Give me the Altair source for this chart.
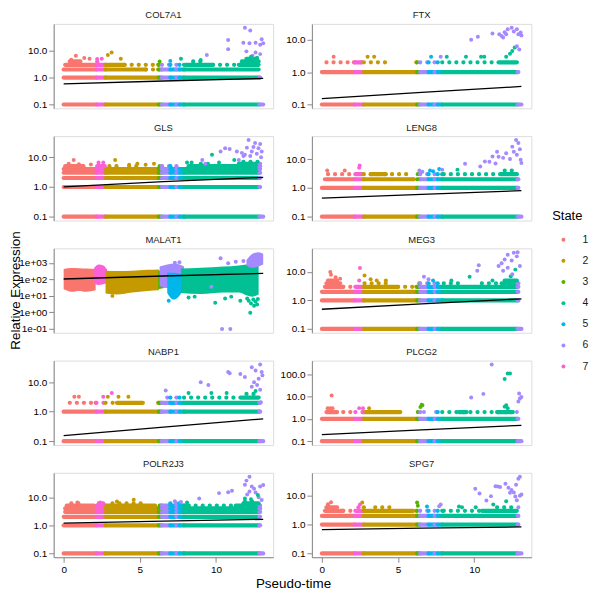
import math
import altair as alt
import pandas as pd

GENES = ["COL7A1", "FTX", "GLS", "LENG8", "MALAT1", "MEG3", "NABP1", "PLCG2", "POLR2J3", "SPG7"]
STATES = ["1", "2", "3", "4", "5", "6", "7"]
STATE_COLORS = ["#F8766D", "#C49A00", "#53B400", "#00C094", "#00B6EB", "#A58AFF", "#FB61D7"]
# pseudotime spans occupied by each state (state, start, end)
STATE_SPANS = [(1, 0.0, 2.15), (7, 2.15, 2.75), (2, 2.75, 6.25), (3, 6.25, 6.45), (6, 6.45, 7.0),
               (5, 7.0, 7.4), (6, 7.4, 7.6), (5, 7.6, 7.9), (4, 7.9, 12.85), (6, 12.85, 13.1)]
PSEUDOTIME_RANGE = [0.0, 13.1]

# runs of cells sharing an expression level: (level, t_start, t_end, "D"=dense / "S"=sparse)
COL7A1_RUNS = [(0.1, 0, 13.1, "D"), (1, 0, 12.9, "D"), (2, 0, 5.4, "D"), (2, 5.4, 6.2, "S"), (2, 6.2, 12.8, "D"),
               (3, 0.1, 4.0, "D"), (3, 4.0, 6.2, "S"), (3, 6.2, 8.0, "S"), (3, 8.0, 9.8, "D"), (3, 9.8, 11.5, "S"),
               (3, 11.5, 12.8, "D"), (4, 0.4, 1.1, "D"), (4, 2.2, 2.6, "S"), (4, 8.5, 9.2, "S"), (4, 11.7, 12.8, "D"),
               (5, 12.0, 12.7, "D")]
FTX_RUNS = [(0.1, 0, 13.1, "D"), (1, 0, 12.9, "D"), (2, 0.3, 1.9, "S"), (2, 2.1, 2.6, "D"), (2, 2.6, 4.6, "S"),
            (2, 6.2, 7.9, "S"), (2, 7.9, 11.5, "S"), (2, 11.6, 12.8, "D")]
GLS_RUNS = [(0.1, 0, 13.1, "D"), (1, 0, 12.9, "D"), (2, 0, 12.9, "D"), (3, 0, 12.9, "D"), (4, 0, 12.9, "D"),
            (5, 0.1, 1.3, "D"), (5, 2.2, 2.7, "D"), (5, 3.0, 3.6, "S"), (5, 4.3, 4.9, "S"), (5, 6.3, 7.5, "S"),
            (5, 8.2, 12.9, "D"), (6, 9.0, 9.6, "S"), (6, 11.5, 12.9, "D"), (7, 11.8, 12.8, "S")]
LENG8_RUNS = [(0.1, 0, 13.1, "D"), (1, 0, 12.9, "D"), (2, 0.2, 6.0, "D"), (2, 6.0, 6.4, "S"), (2, 6.4, 12.9, "D"),
              (3, 0.4, 2.0, "S"), (3, 2.2, 2.6, "D"), (3, 2.6, 5.6, "S"), (3, 3.2, 4.2, "D"), (3, 6.3, 8.0, "S"),
              (3, 8.0, 11.5, "S"), (3, 11.7, 12.8, "D"), (4, 12.0, 12.6, "S")]
MALAT1_RUNS = []
MEG3_RUNS = [(0.1, 0, 13.1, "D"), (1, 0, 12.9, "D"), (2, 0, 12.9, "D"), (3, 0.2, 1.4, "D"), (4, 0.3, 1.2, "D"),
             (5, 0.4, 1.0, "D"), (3, 1.4, 2.1, "S"), (3, 2.2, 5.0, "D"), (3, 5.0, 6.2, "S"), (4, 2.8, 4.6, "S"),
             (3, 6.2, 8.0, "D"), (4, 6.4, 7.9, "S"), (3, 8.0, 12.9, "D"), (4, 8.0, 9.3, "S"), (4, 10.5, 11.8, "S"),
             (4, 11.8, 12.9, "D"), (5, 12.0, 12.8, "D")]
NABP1_RUNS = [(0.1, 0, 13.1, "D"), (1, 0, 12.9, "D"), (2, 0.4, 2.0, "S"), (2, 2.1, 3.4, "S"), (2, 3.5, 5.2, "D"),
              (2, 6.2, 12.9, "D"), (3, 6.8, 11.7, "S"), (3, 11.7, 12.8, "D"), (4, 12.0, 12.7, "S")]
PLCG2_RUNS = [(0.1, 0, 13.1, "D"), (1, 0, 12.9, "D"), (2, 0.3, 1.0, "D"), (2, 1.4, 2.0, "S"), (2, 2.2, 2.7, "S"),
              (2, 2.7, 5.15, "D"), (2, 6.3, 6.9, "S"), (2, 7.5, 12.8, "S"), (2, 9.0, 9.5, "D"), (2, 11.5, 12.5, "D")]
POLR2J3_RUNS = [(0.1, 0, 13.1, "D"), (1, 0, 12.9, "D"), (2, 0, 12.9, "D"), (3, 0.1, 12.9, "D"), (4, 0.1, 12.9, "D"),
                (5, 0.2, 2.0, "D"), (5, 2.2, 6.0, "D"), (5, 6.3, 8.2, "D"), (5, 8.2, 11.3, "S"), (5, 11.3, 12.9, "D"),
                (6, 0.5, 1.2, "S"), (6, 2.3, 2.6, "D"), (6, 3.2, 5.2, "S"), (6, 7.0, 7.8, "S"), (6, 11.8, 12.8, "D"),
                (7, 11.9, 12.7, "S")]
SPG7_RUNS = [(0.1, 0, 13.1, "D"), (1, 0, 12.9, "D"), (2, 0, 12.9, "D"), (3, 0.2, 1.4, "D"), (3, 1.4, 2.0, "S"),
             (3, 2.2, 6.0, "D"), (3, 6.2, 8.0, "S"), (3, 8.0, 10.5, "S"), (3, 10.5, 12.8, "D"), (4, 0.3, 1.0, "D"),
             (4, 2.4, 2.8, "S"), (4, 3.5, 4.6, "S"), (4, 11.5, 12.7, "S"), (5, 0.4, 0.8, "S")]

# individual cells: (pseudotime, expression, state)
COL7A1_POINTS = [(0.8, 6.5, 1), (1.35, 5.4, 1), (1.7, 5.0, 1), (0.5, 4.6, 1), (2.2, 4.9, 7), (2.5, 5.0, 7),
                 (2.9, 7.0, 2), (3.15, 8.7, 2), (3.75, 5.0, 2), (6.3, 4.0, 3), (7.0, 4.2, 5), (7.7, 5.0, 4),
                 (9.4, 7.0, 6), (9.0, 4.5, 4), (10.8, 25, 6), (10.8, 11.5, 6), (11.9, 72, 6), (12.25, 57, 6),
                 (11.8, 20, 6), (12.2, 19, 6), (12.6, 20, 6), (12.9, 16.6, 6), (13.0, 27, 6), (13.1, 19, 6),
                 (12.6, 8.7, 6), (12.4, 6.5, 6), (12.9, 7.5, 6), (12.0, 9.5, 6), (12.7, 5.5, 4), (12.3, 6.0, 4)]
FTX_POINTS = [(0.77, 3.0, 1), (3.0, 3.0, 2), (3.43, 3.0, 2), (7.17, 3.0, 5), (7.8, 3.0, 6), (8.2, 3.0, 4),
              (9.46, 3.0, 4), (10.45, 3.0, 4), (10.66, 3.0, 4), (12.1, 3.0, 4), (12.35, 3.7, 4), (12.5, 4.5, 4),
              (12.66, 5.8, 4), (12.8, 6.3, 6), (12.96, 5.0, 6), (9.8, 10, 6), (10.24, 12.3, 6), (11.2, 15.5, 6),
              (11.65, 14.7, 6), (11.8, 13, 6), (11.9, 11.7, 6), (12.0, 17, 6), (12.1, 14.7, 6), (12.2, 21, 6),
              (12.46, 23.5, 6), (12.6, 18, 6), (12.8, 21, 6), (12.9, 14.7, 6), (13.05, 16.8, 6), (13.1, 13.5, 6)]
GLS_POINTS = [(0.66, 8.1, 1), (0.33, 6.0, 1), (1.0, 5.8, 1), (1.79, 5.7, 1), (2.29, 6.6, 7), (2.6, 6.6, 7),
              (3.38, 8.1, 2), (4.3, 5.6, 2), (4.84, 6.0, 2), (5.38, 5.6, 2), (5.93, 6.0, 2), (6.47, 5.0, 6),
              (8.1, 6.6, 4), (8.4, 6.6, 4), (9.1, 8.1, 6), (9.3, 6.0, 6), (9.74, 12, 4), (10.3, 15.5, 6),
              (10.6, 20, 6), (10.9, 19, 6), (11.37, 15.5, 6), (11.5, 8.1, 6), (11.8, 11, 6), (11.9, 12, 6),
              (12.03, 21, 6), (12.14, 38, 6), (12.35, 15.5, 6), (12.46, 22, 6), (12.57, 30, 6), (12.68, 13, 6),
              (12.79, 20, 6), (12.9, 28, 6), (13.0, 15.5, 6), (12.96, 10, 6), (12.25, 11, 6), (11.7, 14, 6),
              (11.2, 8.0, 4), (10.2, 6.6, 4)]
LENG8_POINTS = [(0.35, 4.0, 1), (1.5, 4.0, 1), (2.45, 5.0, 7), (2.48, 6.0, 7), (7.1, 4.0, 5), (7.3, 3.8, 5),
                (7.7, 4.5, 5), (7.9, 4.3, 6), (8.9, 4.3, 4), (9.4, 6.9, 6), (10.7, 8.3, 6), (11.2, 12.3, 6),
                (11.5, 18, 6), (11.6, 12, 6), (11.9, 11, 6), (12.1, 16, 6), (12.35, 10, 6), (12.5, 27, 6),
                (12.6, 18, 6), (12.75, 46, 6), (12.9, 36, 6), (13.0, 22, 6), (13.05, 9.5, 6), (13.1, 7.3, 6),
                (12.8, 14, 6), (11.4, 7.0, 6), (11.0, 8.0, 6), (10.4, 5.5, 6), (6.4, 4.0, 6), (6.6, 3.6, 6)]
MALAT1_POINTS = [(10.3, 1900, 6), (10.8, 930, 6), (11.3, 1170, 6), (10.4, 0.1, 6), (10.94, 0.1, 6),
                 (9.95, 3.8, 4), (10.6, 7.0, 4), (12.25, 0.95, 4), (9.7, 36, 6), (11.0, 9.0, 4), (11.6, 5.0, 4),
                 (8.6, 9.0, 4), (7.3, 1000, 6), (7.6, 1100, 6), (11.8, 1300, 6), (3.2, 10, 2), (8.2, 8.0, 4),
                 (6.9, 5.0, 5), (12.3, 3.5, 4), (12.5, 2.5, 4), (12.6, 4.5, 4), (12.45, 6.0, 4), (12.15, 5.0, 4),
                 (12.7, 3.0, 4), (12.75, 6.5, 4), (12.05, 7.0, 4)]
MEG3_POINTS = [(0.6, 8.0, 1), (0.55, 10.0, 1), (0.9, 6.5, 1), (1.2, 5.8, 1), (2.5, 13.7, 7), (2.45, 5.0, 7),
               (2.8, 7.5, 2), (3.2, 5.5, 2), (3.6, 5.0, 2), (4.2, 5.0, 2), (6.7, 6.7, 6), (7.0, 5.5, 6),
               (7.3, 5.0, 5), (8.5, 5.0, 4), (9.7, 6.7, 4), (11.2, 5.0, 4), (12.4, 7.0, 4), (12.7, 12.0, 4),
               (10.3, 17, 6), (10.2, 11, 6), (11.6, 16, 6), (11.8, 20, 6), (12.0, 27, 6), (12.2, 40, 6),
               (12.46, 25, 6), (12.6, 47, 6), (12.8, 35, 6), (13.0, 16, 6), (11.9, 11, 6), (12.5, 8.3, 6),
               (12.2, 14, 6), (12.85, 49, 6)]
NABP1_POINTS = [(0.7, 3.2, 1), (1.0, 3.2, 1), (2.6, 3.2, 7), (2.9, 3.2, 2), (3.16, 4.3, 7), (3.6, 3.2, 2),
                (4.25, 3.2, 2), (8.2, 4.3, 4), (9.7, 4.3, 4), (10.7, 4.3, 4), (6.7, 5.2, 6), (9.0, 10, 6),
                (9.5, 8.0, 6), (10.8, 22, 6), (10.9, 20, 6), (11.6, 19, 6), (11.9, 15, 6), (12.35, 32, 6),
                (12.6, 25, 6), (12.9, 40, 6), (13.0, 22, 6), (13.05, 17, 6), (12.8, 13, 6), (12.5, 10, 6),
                (12.7, 8.0, 6), (12.35, 7.0, 6), (12.95, 2.1, 6), (12.9, 5.5, 6), (12.6, 5.0, 4)]
PLCG2_POINTS = [(0.38, 3.0, 1), (0.55, 3.0, 1), (0.7, 3.0, 1), (0.64, 11, 1), (2.45, 3.0, 7), (2.7, 3.0, 7),
                (3.1, 3.0, 2), (6.47, 3.4, 3), (6.6, 4.0, 3), (6.55, 4.2, 3), (12.0, 3.5, 4), (12.1, 4.0, 4),
                (12.2, 3.0, 4), (9.8, 9.0, 6), (10.6, 13, 6), (11.15, 270, 6), (12.0, 60, 4), (12.2, 107, 4),
                (12.35, 105, 4), (12.9, 6.0, 6), (13.0, 8.0, 6), (13.1, 9.5, 6), (12.95, 13.5, 6), (12.8, 2.0, 6),
                (6.7, 2.0, 6)]
POLR2J3_POINTS = [(0.9, 6.5, 1), (4.6, 8.1, 2), (2.4, 6.5, 7), (3.5, 7.0, 2), (7.3, 7.2, 6), (7.7, 6.8, 6),
                  (8.1, 6.5, 4), (8.9, 9.0, 6), (10.2, 14, 6), (10.8, 15, 6), (11.05, 17, 6), (11.9, 28, 6),
                  (12.05, 12.5, 6), (12.2, 16, 6), (12.35, 24, 6), (12.5, 20, 6), (12.6, 14.6, 6), (12.8, 10, 6),
                  (12.9, 24, 6), (13.0, 8.0, 6), (13.1, 27, 6), (12.0, 39, 6), (12.2, 54, 6), (12.75, 12, 4),
                  (12.3, 8.5, 4), (11.9, 9.0, 4)]
SPG7_POINTS = [(0.6, 6.0, 1), (2.65, 5.8, 2), (2.5, 5.0, 7), (6.25, 5.8, 3), (6.3, 4.5, 3), (7.8, 5.0, 6),
               (7.7, 4.3, 6), (6.9, 4.2, 5), (9.0, 4.2, 4), (9.2, 4.0, 4), (10.1, 4.0, 4), (11.25, 5.0, 4),
               (12.1, 6.5, 4), (10.07, 17.4, 6), (10.35, 12, 6), (10.8, 6.9, 6), (11.1, 9.7, 6), (11.4, 21.5, 6),
               (11.55, 21, 6), (11.7, 20, 6), (12.05, 26, 6), (12.25, 19, 6), (12.45, 15.7, 6), (12.6, 13, 6),
               (12.35, 12.7, 6), (12.7, 9.5, 6), (12.8, 7.0, 6), (12.75, 24, 6), (12.9, 39, 6), (13.0, 46, 6),
               (13.0, 10, 6), (13.1, 11, 6), (12.9, 4.0, 6)]

# dense expression cloud of MALAT1: (state, [(pseudotime, low, high), ...])
MALAT1_CLOUD = [
    (1, [(0.0, 25, 420), (0.5, 18, 480), (1.0, 20, 470), (1.5, 18, 450), (2.1, 22, 430)]),
    (7, [(2.0, 60, 500), (2.3, 45, 800), (2.6, 50, 700), (2.85, 60, 400)]),
    (2, [(2.75, 14, 330), (3.5, 12, 320), (4.5, 16, 330), (5.5, 20, 380), (6.25, 22, 400)]),
    (3, [(6.2, 25, 350), (6.6, 30, 300)]),
    (6, [(6.3, 40, 600), (6.8, 30, 800), (7.3, 40, 900), (7.9, 50, 600)]),
    (5, [(6.8, 15, 250), (7.2, 6, 250), (7.5, 8, 230), (7.8, 20, 200)]),
    (4, [(7.7, 15, 450), (9.0, 13, 500), (10.5, 16, 600), (11.5, 16, 700), (12.0, 11, 800), (12.4, 9, 900), (12.8, 12, 900)]),
    (6, [(12.0, 700, 1500), (12.4, 500, 3500), (12.8, 600, 4400), (13.1, 800, 3500)]),
]

# fitted trend: (pseudotime, expression)
COL7A1_FIT = [(0, 0.58), (6.55, 0.75), (13.1, 0.94)]
FTX_FIT = [(0, 0.152), (6.55, 0.235), (13.1, 0.36)]
GLS_FIT = [(0, 1.0), (6.55, 1.5), (13.1, 2.1)]
LENG8_FIT = [(0, 0.44), (6.55, 0.6), (13.1, 0.8)]
MALAT1_FIT = [(0, 105), (6.55, 160), (13.1, 230)]
MEG3_FIT = [(0, 0.49), (6.55, 0.75), (13.1, 1.14)]
NABP1_FIT = [(0, 0.155), (6.55, 0.3), (13.1, 0.57)]
PLCG2_FIT = [(0, 0.196), (6.55, 0.32), (13.1, 0.51)]
POLR2J3_FIT = [(0, 1.2), (6.55, 1.4), (13.1, 1.63)]
SPG7_FIT = [(0, 0.67), (6.55, 0.75), (13.1, 0.83)]

Y_TITLE = ["Relative Expression"]

RUNS = {"COL7A1": COL7A1_RUNS, "FTX": FTX_RUNS, "GLS": GLS_RUNS, "LENG8": LENG8_RUNS, "MALAT1": MALAT1_RUNS,
        "MEG3": MEG3_RUNS, "NABP1": NABP1_RUNS, "PLCG2": PLCG2_RUNS, "POLR2J3": POLR2J3_RUNS, "SPG7": SPG7_RUNS}
POINTS = {"COL7A1": COL7A1_POINTS, "FTX": FTX_POINTS, "GLS": GLS_POINTS, "LENG8": LENG8_POINTS,
          "MALAT1": MALAT1_POINTS, "MEG3": MEG3_POINTS, "NABP1": NABP1_POINTS, "PLCG2": PLCG2_POINTS,
          "POLR2J3": POLR2J3_POINTS, "SPG7": SPG7_POINTS}
FITS = {"COL7A1": COL7A1_FIT, "FTX": FTX_FIT, "GLS": GLS_FIT, "LENG8": LENG8_FIT, "MALAT1": MALAT1_FIT,
        "MEG3": MEG3_FIT, "NABP1": NABP1_FIT, "PLCG2": PLCG2_FIT, "POLR2J3": POLR2J3_FIT, "SPG7": SPG7_FIT}

# ---------------- styling / layout ----------------
FONT = "Liberation Sans"
AXIS_GREY = "#A8A8A8"
LABEL_GREY = "#4D4D4D"
W, H = 221, 85
ROW_GAP, COL_GAP = 28, 39
HEX = dict(zip(STATES, STATE_COLORS))
color_scale = alt.Scale(domain=STATES, range=STATE_COLORS)
legend = alt.Legend(title="State", orient="none", legendX=502, legendY=187, padding=0,
                    titleFontSize=13, titleFontWeight="normal", titleColor="black", titleFont=FONT,
                    titlePadding=12, labelFontSize=10.5, labelColor="#1A1A1A", labelFont=FONT,
                    symbolType="circle", symbolSize=16, symbolStrokeWidth=0, symbolOffset=6,
                    labelOffset=14, rowPadding=10.3)

span = PSEUDOTIME_RANGE[1] - PSEUDOTIME_RANGE[0]
x_dom = [PSEUDOTIME_RANGE[0] - 0.05 * span, PSEUDOTIME_RANGE[1] + 0.05 * span]
x_scale = alt.Scale(domain=x_dom, nice=False, zero=False)


def split_runs(gene):
    rows = []
    for lvl, t0, t1, kind in RUNS[gene]:
        for s, a, b in STATE_SPANS:
            lo, hi = max(t0, a), min(t1, b)
            if hi > lo:
                rows.append({"t0": lo, "t1": hi, "v": lvl, "hex": HEX[str(s)], "kind": kind})
    return pd.DataFrame(rows)


def y_domain(gene):
    vals = [0.1] + [r[0] for r in RUNS[gene]] + [p[1] for p in POINTS[gene]] + [f[1] for f in FITS[gene]]
    if gene == "MALAT1":
        for _, pts in MALAT1_CLOUD:
            for t, lo, hi in pts:
                vals += [lo, hi]
    lo, hi = math.log10(min(vals)), math.log10(max(vals))
    r = hi - lo
    return [10 ** (lo - 0.05 * r), 10 ** (hi + 0.05 * r)]


def make_cell(idx, gene):
    bottom = idx >= 8
    dom = y_domain(gene)
    if gene == "MALAT1":
        yaxis = alt.Axis(values=[0.1, 1, 10, 100, 1000], grid=False,
                         labelExpr="datum.value < 0.5 ? '1e-01' : datum.value < 5 ? '1e+00' : datum.value < 50 ? '1e+01' : datum.value < 500 ? '1e+02' : '1e+03'",
                         title=None)
    else:
        ticks = [0.1, 1, 10] + ([100] if max(p[1] for p in POINTS[gene]) > 100 else [])
        yaxis = alt.Axis(values=ticks, format=".1f", title=None, grid=False)
    if bottom:
        if idx == 8:
            xaxis = alt.Axis(values=[0, 5, 10], format="d", grid=False, title="Pseudo-time", titleX=241,
                             titleY=30, titleAlign="center", titleBaseline="alphabetic", titleFontSize=13.5,
                             titleFontWeight="normal", titleColor="black", titleFont=FONT)
        else:
            xaxis = alt.Axis(values=[0, 5, 10], format="d", grid=False, title=None)
    else:
        xaxis = None
    y_scale = alt.Scale(type="log", domain=dom, nice=False)

    def X(field):
        return alt.X(field, type="quantitative", scale=x_scale, axis=xaxis)

    def Y(field):
        return alt.Y(field, type="quantitative", scale=y_scale, axis=yaxis, stack=False)

    layers = []
    if gene == "MALAT1":
        rows = []
        for k, (s, pts) in enumerate(MALAT1_CLOUD):
            for t, lo, hi in pts:
                rows.append({"t": t, "v": hi, "v2": lo, "hex": HEX[str(s)], "seg": k})
        layers.append(alt.Chart(pd.DataFrame(rows)).mark_area(opacity=1, interpolate="monotone").encode(
            x=X("t"), y=Y("v"), y2=alt.Y2("v2"), color=alt.Color("hex:N", scale=None),
            detail="seg:N"))
    runs = split_runs(gene)
    if len(runs):
        dense = runs[runs.kind == "D"]
        sparse = runs[runs.kind == "S"]
        if len(dense):
            layers.append(alt.Chart(dense).mark_rule(strokeWidth=4.2, strokeCap="round").encode(
                x=X("t0"), x2="t1", y=Y("v"), color=alt.Color("hex:N", scale=None)))
        if len(sparse):
            layers.append(alt.Chart(sparse).mark_rule(strokeWidth=4.2, strokeCap="round",
                                                      strokeDash=[0.1, 7]).encode(
                x=X("t0"), x2="t1", y=Y("v"), color=alt.Color("hex:N", scale=None)))
    pts = pd.DataFrame([{"t": t, "v": v, "state": str(s)} for t, v, s in POINTS[gene]])
    layers.append(alt.Chart(pts).mark_circle(size=16, opacity=1).encode(
        x=X("t"), y=Y("v"), color=alt.Color("state:N", scale=color_scale, legend=legend)))
    fit = pd.DataFrame([{"t": t, "v": v} for t, v in FITS[gene]])
    layers.append(alt.Chart(fit).mark_line(color="black", strokeWidth=1.3).encode(x=X("t"), y=Y("v")))
    if gene == "GLS":
        # overall y-axis title, centred on the left column (hangs below this panel)
        centre = (5 * H + 4 * ROW_GAP) / 2 - (H + ROW_GAP)
        layers.append(alt.Chart(pd.DataFrame({"label": Y_TITLE})).mark_text(
            angle=270, align="center", baseline="alphabetic", fontSize=13.5, font=FONT, color="black"
        ).encode(x=alt.value(-34), y=alt.value(centre), text="label:N"))
    return alt.layer(*layers).properties(
        width=W, height=H,
        title=alt.TitleParams(gene, fontSize=9.5, fontWeight="normal", color="#1A1A1A", font=FONT,
                              anchor="middle", offset=4))


cells = [make_cell(i, g) for i, g in enumerate(GENES)]
chart = alt.concat(*cells, columns=2, spacing={"row": ROW_GAP, "column": COL_GAP}).properties(
    bounds="flush", padding=0
).resolve_scale(color="shared").configure_view(stroke=None).configure_axis(
    grid=False, domainColor=AXIS_GREY, domainWidth=1.1, tickColor=AXIS_GREY, tickSize=3, tickWidth=1.1,
    labelFontSize=9.8, labelColor=LABEL_GREY, labelFont=FONT, labelPadding=2
).configure(background="white")

chart.save("out.html", embed_options={"renderer": "svg", "actions": False})
